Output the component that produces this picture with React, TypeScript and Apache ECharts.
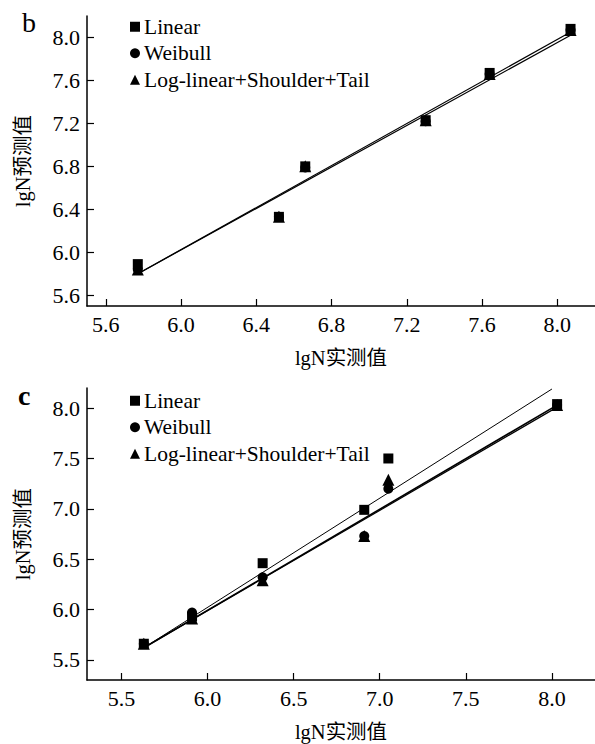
import React, { useEffect, useRef } from "react";
import * as echarts from "echarts";

const FONT = "'Liberation Serif', 'Times New Roman', 'Noto Sans CJK SC', serif";

// Panel b
const xB = [5.77, 6.52, 6.66, 7.3, 7.64, 8.07];
const linearB = [5.89, 6.33, 6.8, 7.23, 7.67, 8.08];
const weibullB = [5.84, 6.33, 6.79, 7.22, 7.66, 8.07];
const logB = [5.84, 6.33, 6.8, 7.23, 7.66, 8.07];
const fitBX = [5.78, 8.08];
const fitB1Y = [5.81, 8.06];
const fitB2Y = [5.81, 8.03];
const ticksBX = [5.6, 6.0, 6.4, 6.8, 7.2, 7.6, 8.0];
const ticksBY = [5.6, 6.0, 6.4, 6.8, 7.2, 7.6, 8.0];

// Panel c
const xC = [5.63, 5.91, 6.32, 6.91, 7.05, 8.03];
const linearC = [5.66, 5.93, 6.46, 6.99, 7.5, 8.04];
const weibullC = [5.66, 5.97, 6.32, 6.73, 7.2, 8.03];
const logC = [5.66, 5.91, 6.29, 6.73, 7.29, 8.03];
const fitCLinX = [5.63, 8.0];
const fitCLinY = [5.62, 8.19];
const fitCX = [5.63, 8.03];
const fitC1Y = [5.62, 8.03];
const fitC2Y = [5.62, 8.01];
const ticksCX = [5.5, 6.0, 6.5, 7.0, 7.5, 8.0];
const ticksCY = [5.5, 6.0, 6.5, 7.0, 7.5, 8.0];

const names = ["Linear", "Weibull", "Log-linear+Shoulder+Tail"];
const symbols = ["rect", "circle", "triangle"];
const symbolSizes = [10, 10, 12];

const zip = (xs: number[], ys: number[]) => xs.map((x, i) => [x, ys[i]]);

function axisX(gridIndex: number, min: number, max: number, ticks: number[]) {
  return {
    gridIndex,
    type: "value",
    min,
    max,
    axisLine: { show: true, onZero: false, lineStyle: { color: "#000", width: 1.5 } },
    axisTick: { show: true, inside: true, length: 7, customValues: ticks, lineStyle: { color: "#000", width: 1.2 } },
    axisLabel: {
      customValues: ticks,
      formatter: (v: number) => v.toFixed(1),
      fontSize: 22,
      fontFamily: FONT,
      color: "#000",
      margin: 7,
    },
    splitLine: { show: false },
    name: "lgN实测值",
    nameLocation: "middle",
    nameGap: 42,
    nameTextStyle: { fontSize: 20.5, fontFamily: FONT, color: "#000" },
  };
}

function axisY(gridIndex: number, min: number, max: number, ticks: number[]) {
  return {
    gridIndex,
    type: "value",
    min,
    max,
    axisLine: { show: true, onZero: false, lineStyle: { color: "#000", width: 1.5 } },
    axisTick: { show: true, inside: true, length: 7, customValues: ticks, lineStyle: { color: "#000", width: 1.2 } },
    axisLabel: {
      customValues: ticks,
      formatter: (v: number) => v.toFixed(1),
      fontSize: 22,
      fontFamily: FONT,
      color: "#000",
      margin: 7,
    },
    splitLine: { show: false },
    name: "lgN预测值",
    nameLocation: "middle",
    nameRotate: 90,
    nameGap: 54,
    nameTextStyle: { fontSize: 20.5, fontFamily: FONT, color: "#000" },
  };
}

function scatter(idx: number, gridIdx: number, xs: number[], ys: number[]) {
  return {
    type: "scatter",
    name: names[idx],
    xAxisIndex: gridIdx,
    yAxisIndex: gridIdx,
    symbol: symbols[idx],
    symbolSize: symbolSizes[idx],
    itemStyle: { color: "#000", opacity: 1 },
    data: zip(xs, ys),
    z: 3,
  };
}

function fitLine(gridIdx: number, xs: number[], ys: number[], width: number) {
  return {
    type: "line",
    xAxisIndex: gridIdx,
    yAxisIndex: gridIdx,
    showSymbol: false,
    symbol: "none",
    lineStyle: { color: "#000", width },
    data: zip(xs, ys),
    z: 2,
    silent: true,
  };
}

function legend(top: number) {
  return {
    orient: "vertical",
    left: 130,
    top,
    padding: 0,
    itemWidth: 10,
    itemHeight: 10,
    itemGap: 5,
    itemStyle: { opacity: 1 },
    textStyle: { fontSize: 21.5, fontFamily: FONT, color: "#000", padding: [0, 0, 0, -1] },
    data: names.map((n, i) => ({ name: n, icon: symbols[i] })),
    selectedMode: false,
  };
}

export default function App() {
  const ref = useRef<HTMLDivElement>(null);
  useEffect(() => {
    document.body.style.margin = "0";
    const chart = echarts.init(ref.current!, null, { renderer: "svg" });
    chart.setOption({
      animation: false,
      backgroundColor: "#fff",
      grid: [
        { left: 87, top: 16, width: 508, height: 290 },
        { left: 87, top: 388, width: 508, height: 292 },
      ],
      xAxis: [axisX(0, 5.5, 8.2, ticksBX), axisX(1, 5.3, 8.25, ticksCX)],
      yAxis: [axisY(0, 5.5, 8.2, ticksBY), axisY(1, 5.3, 8.2, ticksCY)],
      legend: [legend(16), legend(390)],
      graphic: [
        { type: "text", left: 22, top: 8, style: { text: "b", font: `28px ${FONT}`, fill: "#000" } },
        { type: "text", left: 18, top: 381, style: { text: "c", font: `bold 28px ${FONT}`, fill: "#000" } },
      ],
      series: [
        fitLine(0, fitBX, fitB1Y, 1.2),
        fitLine(0, fitBX, fitB2Y, 1.2),
        scatter(0, 0, xB, linearB),
        scatter(1, 0, xB, weibullB),
        scatter(2, 0, xB, logB),
        fitLine(1, fitCLinX, fitCLinY, 1),
        fitLine(1, fitCX, fitC1Y, 1.6),
        fitLine(1, fitCX, fitC2Y, 1.2),
        scatter(0, 1, xC, linearC),
        scatter(1, 1, xC, weibullC),
        scatter(2, 1, xC, logC),
      ],
    });
    return () => chart.dispose();
  }, []);
  return <div ref={ref} style={{ width: 595, height: 744 }} />;
}
